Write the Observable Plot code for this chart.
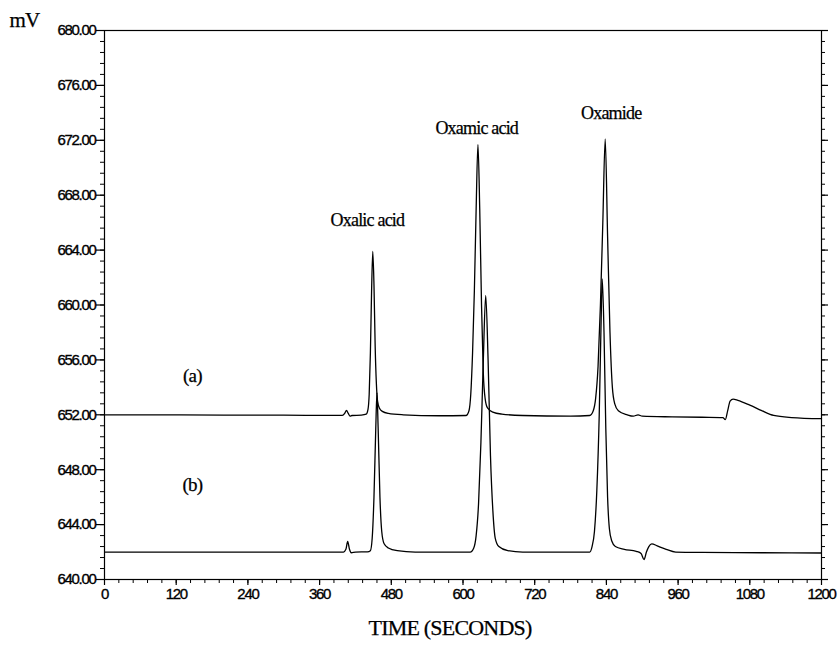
<!DOCTYPE html>
<html>
<head>
<meta charset="utf-8">
<script src="https://cdn.jsdelivr.net/npm/d3@7"></script>
<script src="https://cdn.jsdelivr.net/npm/@observablehq/plot@0.6"></script>
<style>
  html, body { margin: 0; padding: 0; background: #fff; }
  #chart svg { display: block; }
</style>
</head>
<body>
<div id="chart"></div>
<script>
// ---- data ----
// trace (a): time (s), signal (mV)
const timeA = [0, 100, 200, 300, 380, 398, 402, 405, 408, 411, 414, 430, 438, 441, 443, 445, 447, 449, 451, 453, 455, 457, 460, 465, 475, 500, 560, 605, 610, 613, 616, 619, 622, 625, 628, 631, 634, 637, 641, 650, 665, 700, 780, 812, 818, 822, 826, 830, 834, 838, 842, 846, 850, 854, 860, 875, 885, 893, 900, 950, 1000, 1035, 1039, 1043, 1047, 1052, 1060, 1080, 1100, 1120, 1150, 1200];
const mvA   = [652.00, 652.00, 651.98, 651.97, 651.96, 651.96, 652.10, 652.32, 652.10, 651.90, 651.95, 651.98, 652.05, 652.40, 653.50, 656.50, 661.00, 663.90, 661.50, 657.00, 654.30, 653.00, 652.50, 652.25, 652.10, 652.00, 651.93, 651.95, 652.30, 653.50, 656.50, 661.00, 667.00, 671.70, 667.00, 660.00, 655.00, 653.20, 652.50, 652.20, 652.05, 651.95, 651.90, 651.95, 652.30, 653.20, 655.50, 660.00, 666.00, 672.10, 665.00, 658.00, 654.00, 652.80, 652.30, 652.00, 651.90, 652.00, 651.90, 651.85, 651.82, 651.80, 651.65, 652.30, 653.00, 653.14, 653.05, 652.70, 652.30, 651.95, 651.80, 651.72];
// trace (b): time (s), signal (mV)
const timeB = [0, 100, 200, 300, 400, 404, 407, 410, 413, 420, 440, 445, 448, 451, 454, 456, 458, 461, 464, 468, 475, 490, 520, 600, 612, 618, 622, 626, 630, 634, 638, 642, 646, 650, 654, 660, 675, 700, 780, 812, 816, 820, 824, 828, 831, 833, 836, 839, 842, 845, 849, 855, 870, 890, 898, 903, 907, 911, 916, 925, 940, 956, 1000, 1100, 1200];
const mvB   = [642.00, 642.00, 642.00, 642.00, 642.00, 642.20, 642.77, 642.20, 641.95, 642.00, 642.02, 642.10, 643.00, 646.00, 651.00, 653.60, 651.00, 646.00, 643.50, 642.60, 642.30, 642.10, 642.00, 642.00, 642.00, 642.30, 643.20, 645.50, 650.00, 656.00, 660.70, 656.00, 649.00, 645.00, 643.00, 642.40, 642.10, 642.00, 642.00, 642.00, 642.40, 643.50, 646.50, 652.00, 658.50, 661.90, 658.00, 651.00, 646.00, 643.70, 642.80, 642.40, 642.20, 642.05, 641.90, 641.45, 642.00, 642.40, 642.60, 642.45, 642.20, 642.00, 641.97, 641.95, 641.93];

// peak labels
const peakNames = ["Oxalic acid", "Oxamic acid", "Oxamide"];
const peakLabelT = [440, 623, 848];
const peakLabelV = [666.2, 672.9, 674.0];

// trace labels
const traceNames = ["(a)", "(b)"];
const traceLabelT = [147, 147];
const traceLabelV = [654.8, 646.9];

// axis ticks
const xMajor = [0, 120, 240, 360, 480, 600, 720, 840, 960, 1080, 1200];
const yMajor = [640, 644, 648, 652, 656, 660, 664, 668, 672, 676, 680];
const xMinor = d3.range(0, 1200.01, 24);
const yMinor = d3.range(640, 680.01, 0.8);

// ---- build tables ----
const dataA = timeA.map((t, i) => ({t, v: mvA[i]}));
const dataB = timeB.map((t, i) => ({t, v: mvB[i]}));
const peaks = peakNames.map((name, i) => ({name, t: peakLabelT[i], v: peakLabelV[i]}));
const traces = traceNames.map((name, i) => ({name, t: traceLabelT[i], v: traceLabelV[i]}));

const blank = () => "";
const serif = "'Liberation Serif', 'Times New Roman', serif";
const sans = "'Liberation Sans', Arial, sans-serif";
const plot = Plot.plot({
  width: 839,
  height: 645,
  marginLeft: 104,
  marginRight: 18,
  marginTop: 30,
  marginBottom: 66,
  style: {fontFamily: sans, background: "#fff", color: "#000"},
  x: {domain: [0, 1200], label: null},
  y: {domain: [640, 680], label: null},
  marks: [
    Plot.frame({stroke: "#000", strokeWidth: 1.2}),
    Plot.axisY({ticks: yMinor, tickSize: 4, tickFormat: blank, label: null, strokeWidth: 1}),
    Plot.axisY({ticks: yMajor, tickSize: 8, tickPadding: 1, tickFormat: d => d.toFixed(2), label: null, strokeWidth: 1.2}),
    Plot.axisY({anchor: "right", ticks: yMinor, tickSize: 3, tickFormat: blank, label: null}),
    Plot.axisY({anchor: "right", ticks: yMajor, tickSize: 6, tickFormat: blank, label: null, strokeWidth: 1.2}),
    Plot.axisX({ticks: xMinor, tickSize: 4, tickFormat: blank, label: null}),
    Plot.axisX({ticks: xMajor, tickSize: 6, tickPadding: 3, tickFormat: d => String(d), label: null, strokeWidth: 1.2}),
    Plot.line(dataA, {x: "t", y: "v", curve: "monotone-x", stroke: "#000", strokeWidth: 1.3}),
    Plot.line(dataB, {x: "t", y: "v", curve: "monotone-x", stroke: "#000", strokeWidth: 1.3}),
    Plot.text(peaks, {x: "t", y: "v", text: "name", fontFamily: serif, fontSize: 18, fill: "#000"}),
    Plot.text(traces, {x: "t", y: "v", text: "name", fontFamily: serif, fontSize: 19, fill: "#000"}),
    Plot.text(["mV"], {frameAnchor: "top-left", dx: -80, dy: -18, text: d => d, fontFamily: serif, fontSize: 21, fill: "#000", textAnchor: "middle"}),
    Plot.text(["TIME (SECONDS)"], {frameAnchor: "bottom", dx: -13, dy: 55, text: d => d, fontFamily: serif, fontSize: 22, fill: "#000"})
  ]
});
document.getElementById("chart").appendChild(plot);

// style adjustments: condensed, heavier numeric tick labels; tighter serif labels
plot.querySelectorAll("text").forEach(el => {
  const s = (el.textContent || "").trim();
  if (/^\d+(\.\d+)?$/.test(s)) {
    el.setAttribute("font-size", "15");
    el.style.fontSize = "15px";
    el.style.fontFamily = sans;
    el.style.letterSpacing = "-1.3px";
    el.style.stroke = "#000";
    el.style.strokeWidth = "0.35px";
  } else if (s.length) {
    el.style.letterSpacing = "-0.8px";
    el.style.stroke = "#000";
    el.style.strokeWidth = "0.25px";
  }
});
</script>
</body>
</html>
